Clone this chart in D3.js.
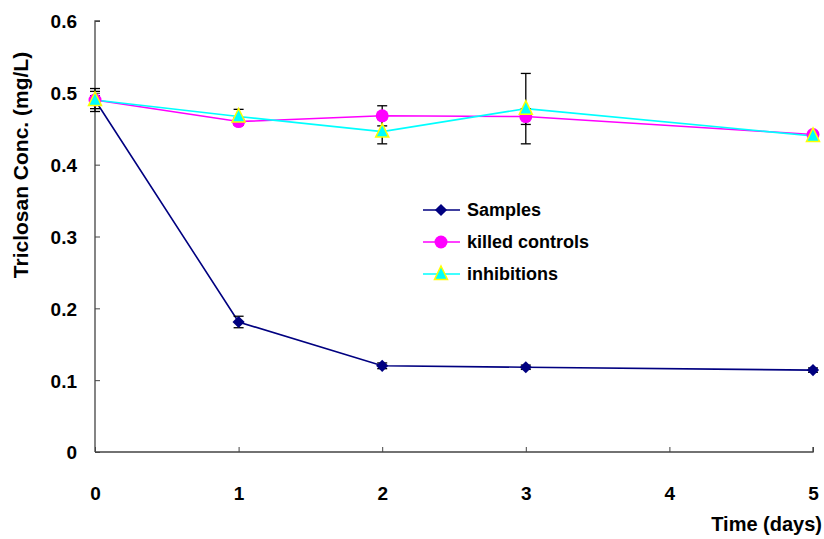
<!DOCTYPE html>
<html><head><meta charset="utf-8">
<script src="https://cdn.jsdelivr.net/npm/d3@7"></script>
<style>body{margin:0;background:#fff}svg text{font-family:"Liberation Sans",Arial,sans-serif;font-weight:bold;fill:#000}</style>
</head><body><svg id="c" width="824" height="539"></svg>
<script>
const days = [0, 1, 2, 3, 5];
const xTicks = [0, 1, 2, 3, 4, 5];
const yTicks = [0, 0.1, 0.2, 0.3, 0.4, 0.5, 0.6];
const seriesNames = ["Samples", "killed controls", "inhibitions"];
const samples = [0.490, 0.181, 0.120, 0.118, 0.114];
const samplesErr = [0.006, 0.008, 0.004, 0.003, 0.003];
const killed = [0.490, 0.460, 0.468, 0.467, 0.442];
const killedErr = [0.016, 0.005, 0.014, 0.011, 0.004];
const inhib = [0.490, 0.467, 0.446, 0.478, 0.440];
const inhibErr = [0.012, 0.010, 0.017, 0.049, 0.003];

const svg = d3.select("#c");
const x = d3.scaleLinear().domain([0, 5]).range([95, 813]);
const y = d3.scaleLinear().domain([0, 0.6]).range([452, 21]);

// axes
const gy = svg.append("g").attr("transform", "translate(95,0)")
  .call(d3.axisRight(y).tickValues(yTicks).tickSize(5).tickFormat(d => d3.format("")(d)));
gy.select(".domain").attr("stroke", "#444").attr("stroke-width", 1.3).attr("d", "M5,21H0V452");
gy.selectAll(".tick line").attr("stroke", "#444");
gy.selectAll(".tick text").attr("x", -18).attr("text-anchor", "end").attr("dy", "0.36em").style("font-size", "19px");

const gx = svg.append("g").attr("transform", "translate(0,452)")
  .call(d3.axisTop(x).tickValues(xTicks).tickSize(5).tickFormat(d3.format("d")));
gx.select(".domain").attr("stroke", "#444").attr("stroke-width", 1.3).attr("d", "M95,0H813V-5");
gx.selectAll(".tick line").attr("stroke", "#444");
gx.selectAll(".tick text").attr("y", 48).attr("dy", "0").style("font-size", "19px");

// titles
svg.append("text").attr("transform", "translate(28,165) rotate(-90)").attr("text-anchor", "middle")
  .style("font-size", "21px").text("Triclosan Conc. (mg/L)");
svg.append("text").attr("x", 822).attr("y", 531).attr("text-anchor", "end")
  .style("font-size", "20px").text("Time (days)");

const series = [
  {name: seriesNames[0], vals: samples, err: samplesErr, color: "#000080", shape: "diamond"},
  {name: seriesNames[1], vals: killed, err: killedErr, color: "#FF00FF", shape: "circle"},
  {name: seriesNames[2], vals: inhib, err: inhibErr, color: "#00FFFF", shape: "triangle"}
];

const line = d3.line().x((d, i) => x(days[i])).y(d => y(d));
series.forEach(s => {
  svg.append("path").datum(s.vals).attr("d", line).attr("fill", "none")
    .attr("stroke", s.color).attr("stroke-width", 1.6);
});
// error bars
series.forEach(s => {
  const g = svg.append("g");
  s.vals.forEach((v, i) => {
    const cx = x(days[i]), y1 = y(v - s.err[i]), y2 = y(v + s.err[i]);
    g.append("line").attr("x1", cx).attr("x2", cx).attr("y1", y1).attr("y2", y2).attr("stroke", "#000").attr("stroke-width", 1.3);
    [y1, y2].forEach(yy => g.append("line").attr("x1", cx - 5).attr("x2", cx + 5).attr("y1", yy).attr("y2", yy).attr("stroke", "#000").attr("stroke-width", 1.3));
  });
});

function marker(g, s, cx, cy) {
  if (s.shape === "diamond") {
    g.append("path").attr("d", d3.symbol().type(d3.symbolDiamond2).size(95)()).attr("transform", `translate(${cx},${cy})`)
      .attr("fill", s.color);
  } else if (s.shape === "circle") {
    g.append("circle").attr("cx", cx).attr("cy", cy).attr("r", 6.5).attr("fill", s.color);
  } else {
    g.append("path").attr("d", `M${cx},${cy - 8}L${cx + 6.5},${cy + 5.5}L${cx - 6.5},${cy + 5.5}Z`)
      .attr("fill", s.color).attr("stroke", "#FFFF00").attr("stroke-width", 1.5);
  }
}
series.forEach(s => {
  const g = svg.append("g");
  s.vals.forEach((v, i) => marker(g, s, x(days[i]), y(v)));
});

// legend
const lg = svg.append("g");
series.forEach((s, i) => {
  const ly = 210 + i * 32;
  lg.append("line").attr("x1", 423).attr("x2", 460).attr("y1", ly).attr("y2", ly).attr("stroke", s.color).attr("stroke-width", 1.6);
  marker(lg, s, 441, ly);
  lg.append("text").attr("x", 467).attr("y", ly).attr("dy", "0.36em").style("font-size", "18px").text(s.name);
});
</script></body></html>
